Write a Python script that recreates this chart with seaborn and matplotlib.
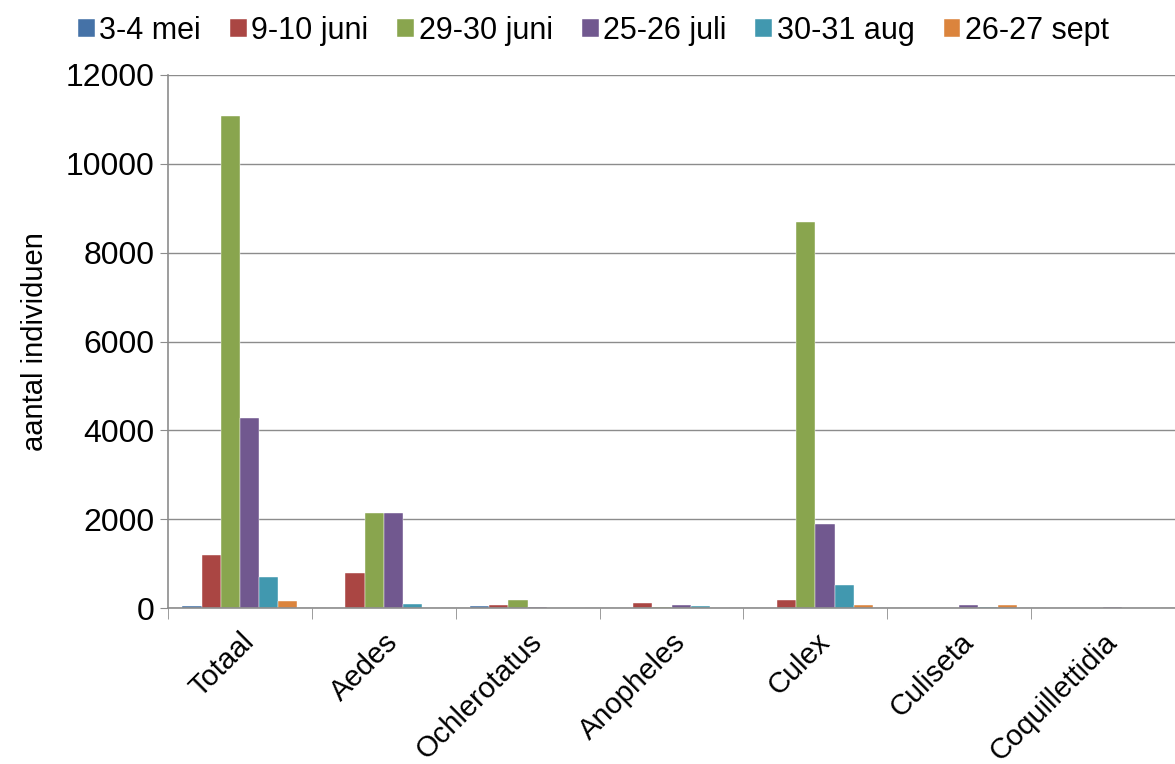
import matplotlib
matplotlib.use("Agg")
import matplotlib.pyplot as plt
import seaborn as sns
import pandas as pd
import numpy as np

categories = ["Totaal", "Aedes", "Ochlerotatus", "Anopheles", "Culex", "Culiseta", "Coquillettidia"]
series = ["3-4 mei", "9-10 juni", "29-30 juni", "25-26 juli", "30-31 aug", "26-27 sept"]
mei_3_4 = [40, 0, 40, 0, 0, 0, 0]
juni_9_10 = [1200, 800, 75, 120, 175, 0, 0]
juni_29_30 = [11070, 2140, 190, 35, 8700, 0, 0]
juli_25_26 = [4270, 2130, 15, 80, 1900, 60, 35]
aug_30_31 = [700, 90, 0, 40, 510, 35, 0]
sept_26_27 = [150, 0, 0, 10, 60, 60, 0]
colors = ["#4572A7", "#AA4643", "#89A54E", "#71588F", "#4198AF", "#DB843D"]

values = [mei_3_4, juni_9_10, juni_29_30, juli_25_26, aug_30_31, sept_26_27]
rows = []
for s, vals in zip(series, values):
    for c, v in zip(categories, vals):
        rows.append({"categorie": c, "periode": s, "aantal": v})
df = pd.DataFrame(rows)

sns.set_style("white")
plt.rcParams["font.family"] = ["Liberation Sans", "DejaVu Sans"]
plt.rcParams["text.color"] = "black"
plt.rcParams["axes.labelcolor"] = "black"
plt.rcParams["xtick.labelcolor"] = "black"
plt.rcParams["ytick.labelcolor"] = "black"

fig = plt.figure(figsize=(11.75, 7.64), dpi=100)
ax = fig.add_axes([0.143, 0.204, 0.857, 0.698])
sns.barplot(data=df, x="categorie", y="aantal", hue="periode", order=categories,
            hue_order=series, palette=colors, width=0.8, saturation=1,
            edgecolor="white", linewidth=0.3, ax=ax, legend=True)

ax.set_ylim(0, 12000)
ax.set_xlim(-0.5, len(categories) - 0.5)
ax.set_yticks(np.arange(0, 12001, 2000))
ax.yaxis.grid(True, color="#8c8c8c", linewidth=1)
ax.set_axisbelow(True)
ax.set_xlabel("")
ax.set_ylabel("aantal individuen", fontsize=21, labelpad=12)
ax.tick_params(axis="y", labelsize=23, length=6, color="#8c8c8c", left=True, direction="out", pad=4)
ax.set_xticks(range(len(categories)))
ax.set_xticklabels(categories, rotation=45, ha="right", rotation_mode="anchor", fontsize=21)
ax.tick_params(axis="x", which="major", length=0, pad=14)
ax.set_xticks(np.arange(-0.5, len(categories)), minor=True)
ax.tick_params(axis="x", which="minor", length=8, color="#8c8c8c", bottom=True, direction="out")
for side in ["top", "right"]:
    ax.spines[side].set_visible(False)
for side in ["left", "bottom"]:
    ax.spines[side].set_color("#8c8c8c")
    ax.spines[side].set_linewidth(1.2)

handles, labels = ax.get_legend_handles_labels()
ax.get_legend().remove()
fig.legend(handles, labels, loc="upper center", bbox_to_anchor=(0.505, 1.015), ncol=6,
           frameon=False, fontsize=22, handlelength=0.55, handleheight=0.55,
           handletextpad=0.15, columnspacing=0.95)

fig.savefig("out.png", dpi=100)
